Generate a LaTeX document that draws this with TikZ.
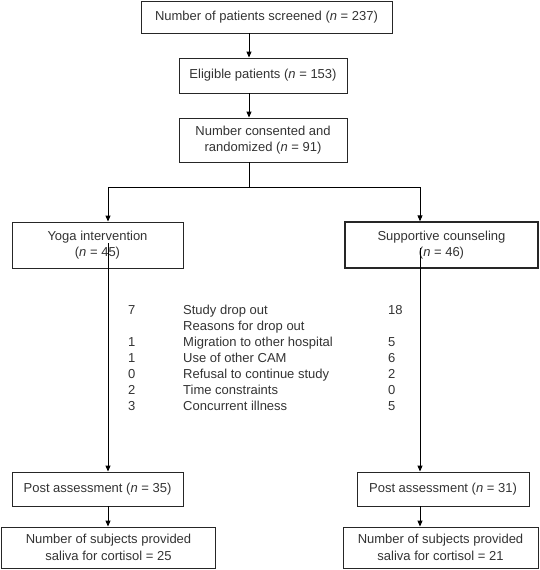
\documentclass[tikz,border=0pt]{standalone}
\usepackage{fontspec}
\setmainfont{Liberation Sans}
\usetikzlibrary{arrows.meta}

\begin{document}
\begin{tikzpicture}[x=1pt,y=-1pt,
	box/.style={draw=black!85,line width=0.9pt,align=center,inner sep=0pt,
		font=\fontsize{13}{16.5}\selectfont,text=black!80},
	link/.style={draw=black,line width=0.9pt},
	arr/.style={link,-{Triangle[length=6pt,width=5pt]}}]
	\useasboundingbox (0,0) rectangle (540,570);
	% main column
	\node[box,minimum width=251pt,minimum height=32pt] (screened) at (266.5,17) {Number of patients screened (\textit{n} = 237)};
	\node[box,minimum width=168pt,minimum height=35pt] (eligible) at (263,75.5) {Eligible patients (\textit{n} = 153)};
	\node[box,minimum width=168pt,minimum height=44pt] (randomized) at (263,140) {Number consented and\\randomized (\textit{n} = 91)};
	% the two arms
	\node[box,minimum width=171pt,minimum height=46pt] (yoga) at (97.5,245) {Yoga intervention\\(\textit{n} = 45)};
	\node[box,line width=1.4pt,minimum width=193pt,minimum height=46pt] (support) at (441.5,245) {Supportive counseling\\(\textit{n} = 46)};
	\node[box,minimum width=171pt,minimum height=34pt] (postL) at (97.5,489) {Post assessment (\textit{n} = 35)};
	\node[box,minimum width=172pt,minimum height=34pt] (postR) at (443,489) {Post assessment (\textit{n} = 31)};
	\node[box,minimum width=214pt,minimum height=41pt] (salivaL) at (108.5,547.5) {Number of subjects provided\\saliva for cortisol = 25};
	\node[box,minimum width=195pt,minimum height=41pt] (salivaR) at (440.5,547.5) {Number of subjects provided\\saliva for cortisol = 21};
	% drop outs
	\node[anchor=base west,inner sep=0pt,text=black!80,font=\fontsize{13}{16}\selectfont] (dropout) at (128,314.5)
		{\begin{tabular}[t]{@{}p{55pt}@{}p{205pt}@{}l@{}}
		7 & Study drop out & 18\\
		  & Reasons for drop out & \\
		1 & Migration to other hospital & 5\\
		1 & Use of other CAM & 6\\
		0 & Refusal to continue study & 2\\
		2 & Time constraints & 0\\
		3 & Concurrent illness & 5
		\end{tabular}};
	% connectors
	\coordinate (split) at (249,187);
	\coordinate (leftTop) at (108,187);
	\coordinate (rightTop) at (420,187);
	\coordinate (yogaIn) at (108,243);
	\coordinate (supportIn) at (420,248);
	\draw[arr] (screened.south -| split) -- (eligible.north -| split);
	\draw[arr] (eligible.south -| split) -- (randomized.north -| split);
	\draw[link] (randomized.south -| split) -- (split);
	\draw[link] (leftTop) -- (rightTop);
	\draw[arr] (leftTop) -- (yoga.north -| leftTop);
	\draw[arr] (rightTop) -- (support.north -| rightTop);
	\draw[arr] (yogaIn) -- (postL.north -| yogaIn);
	\draw[arr] (supportIn) -- (postR.north -| supportIn);
	\draw[arr] (postL.south -| yogaIn) -- (salivaL.north -| yogaIn);
	\draw[arr] (postR.south -| supportIn) -- (salivaR.north -| supportIn);
\end{tikzpicture}
\end{document}
